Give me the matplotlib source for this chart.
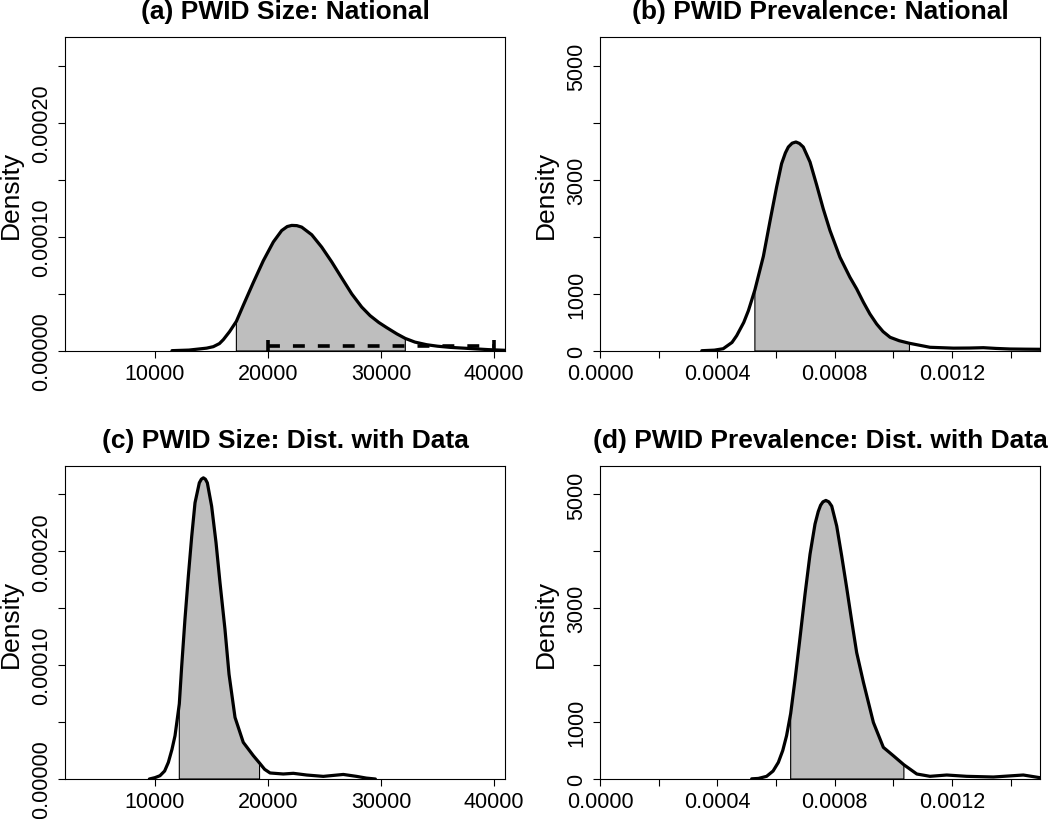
import matplotlib
matplotlib.use("Agg")
import matplotlib.pyplot as plt
import numpy as np

plt.rcParams['font.family'] = ['Liberation Sans', 'DejaVu Sans']

# ---------------- data ----------------
titles = ["(a) PWID Size: National", "(b) PWID Prevalence: National",
          "(c) PWID Size: Dist. with Data", "(d) PWID Prevalence: Dist. with Data"]

# (a) PWID size, national
size_nat_x = [11500, 13000, 14570, 15160, 15700, 16050, 16600, 17200, 17810, 18700,
              19580, 20470, 21210, 21700, 22100, 22550, 22980, 23870, 24750, 25640,
              26520, 27410, 28290, 29030, 29800, 30500, 31400, 32150, 33000, 34040,
              35000, 36100, 37300, 38470, 39500, 41000]
size_nat_y = [0.0000003, 0.0000008, 0.0000025, 0.0000038, 0.0000065, 0.0000100, 0.0000170,
              0.0000260, 0.0000400, 0.0000600, 0.0000790, 0.0000955, 0.0001055, 0.0001090,
              0.0001100, 0.0001098, 0.0001085, 0.0001018, 0.0000910, 0.0000780, 0.0000640,
              0.0000500, 0.0000385, 0.0000310, 0.0000250, 0.0000205, 0.0000150, 0.0000110,
              0.0000078, 0.0000055, 0.0000042, 0.0000032, 0.0000025, 0.0000018, 0.0000012,
              0.0000006]
size_nat_ci = [17200, 32150]
size_prior_range = [20000, 40000]
size_prior_y = 0.0000045

# (b) PWID prevalence, national
prev_nat_x = [0.000347, 0.00039, 0.00042, 0.00045, 0.000466, 0.00049, 0.000506, 0.000528,
              0.000557, 0.00058, 0.000602, 0.000619, 0.000632, 0.000642, 0.000655, 0.000668,
              0.00068, 0.000693, 0.000716, 0.000739, 0.000761, 0.000784, 0.000818, 0.000852,
              0.000875, 0.000898, 0.00092, 0.000943, 0.000965, 0.000989, 0.00102, 0.001055,
              0.001125, 0.001205, 0.00126, 0.001307, 0.00135, 0.001398, 0.00145, 0.0015]
prev_nat_y = [5, 15, 40, 150, 269, 500, 708, 1070, 1660, 2287, 2871, 3281, 3470, 3573, 3640,
              3661, 3635, 3573, 3310, 2901, 2491, 2111, 1643, 1292, 1088, 854, 650, 474, 340,
              240, 180, 135, 65, 50, 52, 58, 45, 35, 32, 30]
prev_nat_ci = [0.000528, 0.001055]

# (c) PWID size, distribution with data
size_dat_x = [9500, 10000, 10440, 10850, 11180, 11500, 11770, 12150, 12360, 12650, 12950,
              13250, 13540, 13920, 14100, 14280, 14460, 14630, 15010, 15400, 15750, 16190,
              16550, 17080, 17810, 18700, 19250, 19700, 20180, 21350, 22240, 23420, 24890,
              26660, 27840, 28700, 29500]
size_dat_y = [0.0, 0.0000012, 0.0000029, 0.0000070, 0.0000146, 0.0000260, 0.0000380,
              0.0000660, 0.0000990, 0.0001404, 0.0001784, 0.0002134, 0.0002427, 0.0002602,
              0.0002634, 0.0002646, 0.0002634, 0.0002602, 0.0002397, 0.0002076, 0.0001725,
              0.0001316, 0.0000920, 0.0000541, 0.0000322, 0.0000205, 0.0000140, 0.0000085,
              0.0000053, 0.0000044, 0.0000050, 0.0000035, 0.0000023, 0.0000040, 0.0000023,
              0.0000008, 0.0]
size_dat_ci = [12150, 19250]

# (d) PWID prevalence, distribution with data
prev_dat_x = [0.000517, 0.00054, 0.000568, 0.00059, 0.000608, 0.000623, 0.000636, 0.00065,
              0.000665, 0.00068, 0.000699, 0.000716, 0.000733, 0.000744, 0.000752, 0.00076,
              0.00077, 0.00078, 0.00079, 0.000807, 0.000824, 0.000841, 0.000858, 0.000875,
              0.000898, 0.000932, 0.000966, 0.001, 0.001036, 0.00108, 0.001125, 0.001182,
              0.00125, 0.001341, 0.001443, 0.0015]
prev_dat_y = [3, 10, 47, 140, 292, 500, 760, 1150, 1750, 2400, 3250, 3950, 4480, 4700, 4810,
              4870, 4895, 4870, 4795, 4444, 3918, 3360, 2780, 2222, 1700, 994, 556, 409, 250,
              88, 47, 70, 47, 35, 70, 23]
prev_dat_ci = [0.00065, 0.001036]

# axes scales / ticks
size_xlim = [2035, 40970]
size_ylim = [0, 0.000275]
size_xticks = [10000, 20000, 30000, 40000]
size_xticklabels = ["10000", "20000", "30000", "40000"]
size_yticks = [0, 0.00005, 0.0001, 0.00015, 0.0002, 0.00025]
size_yticklabels = ["0.00000", "", "0.00010", "", "0.00020", ""]

prev_xlim = [0, 0.0015]
prev_ylim = [0, 5500]
prev_xticks = [0, 0.0002, 0.0004, 0.0006, 0.0008, 0.001, 0.0012, 0.0014]
prev_xticklabels = ["0.0000", "", "0.0004", "", "0.0008", "", "0.0012", ""]
prev_yticks = [0, 1000, 2000, 3000, 4000, 5000]
prev_yticklabels = ["0", "1000", "", "3000", "", "5000"]

# ---------------- drawing ----------------
W, H = 1050, 820
fig = plt.figure(figsize=(W / 100, H / 100), dpi=100)


def add_axes(l, t, r, b):
    return fig.add_axes([l / W, 1 - b / H, (r - l) / W, (b - t) / H])


def panel(ax, title, x, y, ci, xlim, ylim, xticks, xlabels, yticks, ylabels):
    x = np.asarray(x, dtype=float)
    y = np.asarray(y, dtype=float)
    m = (x >= ci[0]) & (x <= ci[1])
    xs = np.concatenate([[ci[0]], x[m], [ci[1]]])
    ys = np.concatenate([[0.0], y[m], [0.0]])
    ax.fill(xs, ys, facecolor='#BEBEBE', edgecolor='black', linewidth=0.8, zorder=1)
    ax.plot(x, y, color='black', lw=2.3, solid_capstyle='round',
            solid_joinstyle='round', zorder=3)
    ax.set_xlim(xlim)
    ax.set_ylim(ylim)
    ax.set_xticks(xticks)
    ax.set_xticklabels(xlabels)
    ax.set_yticks(yticks)
    ax.set_yticklabels(ylabels)
    ax.tick_params(direction='out', length=5, width=0.8, labelsize=15.5, pad=4,
                   color='black')
    for lab in ax.get_yticklabels():
        lab.set_rotation(90)
        lab.set_va('center')
    for s in ax.spines.values():
        s.set_linewidth(0.8)
        s.set_color('black')
    ax.set_title(title, fontsize=19, fontweight='bold', pad=13.5)
    ax.set_ylabel("Density", fontsize=19)
    ax.yaxis.label.set_va('center')
    ax.yaxis.set_label_coords(-54 / 440, 0.5)


ax_a = add_axes(65, 38, 505, 352)
ax_b = add_axes(600, 38, 1040, 352)
ax_c = add_axes(65, 467, 505, 780)
ax_d = add_axes(600, 467, 1040, 780)

panel(ax_a, titles[0], size_nat_x, size_nat_y, size_nat_ci, size_xlim, size_ylim,
      size_xticks, size_xticklabels, size_yticks, size_yticklabels)
panel(ax_b, titles[1], prev_nat_x, prev_nat_y, prev_nat_ci, prev_xlim, prev_ylim,
      prev_xticks, prev_xticklabels, prev_yticks, prev_yticklabels)
panel(ax_c, titles[2], size_dat_x, size_dat_y, size_dat_ci, size_xlim, size_ylim,
      size_xticks, size_xticklabels, size_yticks, size_yticklabels)
panel(ax_d, titles[3], prev_dat_x, prev_dat_y, prev_dat_ci, prev_xlim, prev_ylim,
      prev_xticks, prev_xticklabels, prev_yticks, prev_yticklabels)

# prior range interval in panel (a): dashed line with end caps
ax_a.plot(size_prior_range, [size_prior_y, size_prior_y], color='black', lw=2.6,
          dashes=(3.3, 3.6), dash_capstyle='butt', zorder=4, clip_on=False)
ax_a.plot(size_prior_range, [size_prior_y, size_prior_y], linestyle='none', marker='|',
          markersize=8.6, markeredgewidth=2.6, color='black', zorder=4, clip_on=False)

fig.savefig("out.png", dpi=100)
